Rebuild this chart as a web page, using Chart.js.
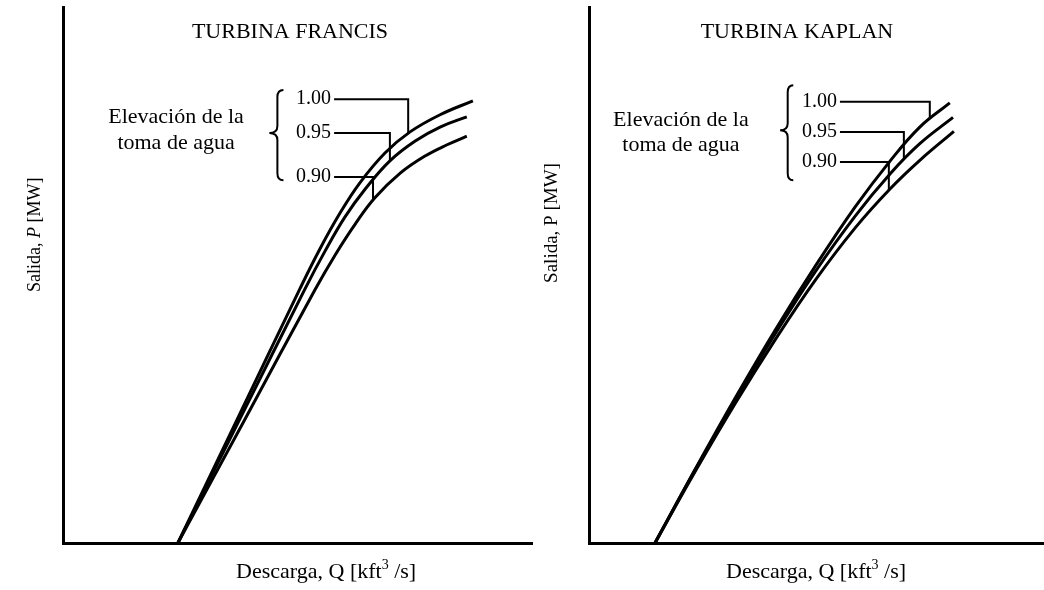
<!DOCTYPE html>
<html>
<head>
<meta charset="utf-8">
<script src="https://cdn.jsdelivr.net/npm/chart.js@4/dist/chart.umd.min.js"></script>
<style>
  body { margin: 0; background: #fff; width: 1044px; height: 590px; overflow: hidden; position: relative; }
  canvas { position: absolute; top: 0; }
</style>
</head>
<body>
<canvas id="francisChart" width="540" height="590" style="left:0"></canvas>
<canvas id="kaplanChart" width="504" height="590" style="left:540px"></canvas>
<script>
// elevaciones de la toma de agua (etiquetas de las curvas)
const elevations = ['1.00', '0.95', '0.90'];

// Turbina Francis: descarga Q y salida P (unidades relativas, sin marcas)
const francisQ100 = [2.45, 3.77, 5.05, 5.48, 5.91, 6.33, 6.87, 7.40, 8.04, 8.74];
const francisP100 = [0, 2.41, 4.74, 5.49, 6.16, 6.72, 7.28, 7.67, 7.99, 8.25];
const francisQ095 = [2.45, 3.77, 5.16, 5.59, 6.01, 6.44, 6.97, 7.51, 8.04, 8.61];
const francisP095 = [0, 2.31, 4.74, 5.45, 6.08, 6.60, 7.13, 7.50, 7.76, 7.95];
const francisQ090 = [2.45, 3.88, 5.37, 5.80, 6.23, 6.65, 7.19, 7.72, 8.19, 8.61];
const francisP090 = [0, 2.31, 4.72, 5.37, 5.95, 6.44, 6.90, 7.22, 7.43, 7.59];

// Turbina Kaplan
const kaplanQ100 = [1.45, 2.33, 3.21, 4.09, 4.97, 5.85, 6.62, 7.27, 7.93];
const kaplanP100 = [0, 1.37, 2.70, 3.97, 5.16, 6.27, 7.13, 7.76, 8.21];
const kaplanQ095 = [1.45, 2.33, 3.21, 4.09, 4.97, 5.85, 6.62, 7.27, 8.00];
const kaplanP095 = [0, 1.36, 2.66, 3.90, 5.06, 6.10, 6.89, 7.45, 7.94];
const kaplanQ090 = [1.45, 2.33, 3.21, 4.09, 4.97, 5.85, 6.62, 7.27, 8.02];
const kaplanP090 = [0, 1.33, 2.60, 3.79, 4.90, 5.88, 6.61, 7.14, 7.68];

const FONT = '"Liberation Serif", "Times New Roman", serif';

function toPoints(qs, ps) {
    return qs.map((q, i) => ({ x: q, y: ps[i] }));
}

function curveAt(points, q) {
    for (let i = 1; i < points.length; i++) {
        if (q <= points[i].x) {
            const a = points[i - 1], b = points[i];
            return a.y + (b.y - a.y) * (q - a.x) / (b.x - a.x);
        }
    }
    return points[points.length - 1].y;
}

function drawBrace(ctx, xr, xl, y1, y2, ym) {
    const xc = (xr + xl) / 2 + 1;
    const r = 7;
    ctx.beginPath();
    ctx.moveTo(xr, y1);
    ctx.quadraticCurveTo(xc, y1, xc, y1 + r);
    ctx.lineTo(xc, ym - r);
    ctx.quadraticCurveTo(xc, ym, xl, ym);
    ctx.quadraticCurveTo(xc, ym, xc, ym + r);
    ctx.lineTo(xc, y2 - r);
    ctx.quadraticCurveTo(xc, y2, xr, y2);
    ctx.stroke();
}

function drawParts(ctx, parts, cx, cy) {
    let total = 0;
    parts.forEach(p => { ctx.font = p.font; total += ctx.measureText(p.text).width; });
    let px = cx - total / 2;
    ctx.textAlign = 'left';
    parts.forEach(p => {
        ctx.font = p.font;
        ctx.fillText(p.text, px, cy + (p.dy || 0));
        px += ctx.measureText(p.text).width;
    });
}

const annotPlugin = {
    id: 'annot',
    afterDraw(chart, args, o) {
        const { ctx, chartArea: ca } = chart;
        const x = chart.scales.x, y = chart.scales.y;
        const X = v => x.getPixelForValue(v), Y = v => y.getPixelForValue(v);
        ctx.save();
        ctx.fillStyle = '#000';
        ctx.strokeStyle = '#000';

        ctx.textBaseline = 'alphabetic';
        ctx.textAlign = 'center';
        ctx.font = '22px ' + FONT;
        ctx.fillText(o.title, X(o.titleAt[0]), Y(o.titleAt[1]));

        ctx.textBaseline = 'middle';
        ctx.font = '22px ' + FONT;
        ctx.fillText('Elevación de la', X(o.noteAt[0]), Y(o.noteAt[1]));
        ctx.fillText('toma de agua', X(o.noteAt[0]), Y(o.noteAt[2]));

        ctx.lineWidth = 2;
        drawBrace(ctx, X(o.brace[0]), X(o.brace[1]), Y(o.brace[2]), Y(o.brace[3]), Y(o.brace[4]));

        ctx.textAlign = 'left';
        ctx.font = '20px ' + FONT;
        chart.data.datasets.forEach((ds, i) => {
            const lx = X(o.labelX), ly = Y(o.labelY[i]);
            ctx.fillText(ds.label, lx, ly);
            const w = ctx.measureText(ds.label).width;
            const dx = X(o.leaderX[i]);
            const cy = Y(curveAt(ds.data, o.leaderX[i]));
            ctx.beginPath();
            ctx.moveTo(lx + w + 3, ly);
            ctx.lineTo(dx, ly);
            ctx.lineTo(dx, cy);
            ctx.stroke();
        });

        // titulo eje x
        ctx.textBaseline = 'alphabetic';
        drawParts(ctx, [
            { text: 'Descarga, Q [kft', font: '22px ' + FONT },
            { text: '3', font: '14px ' + FONT, dy: -9 },
            { text: ' /s]', font: '22px ' + FONT }
        ], X(o.xTitleAt), ca.bottom + 35);

        // titulo eje y
        const fs = o.yTitleSize + 'px ' + FONT;
        ctx.save();
        ctx.translate(ca.left - o.yTitleOffset, Y(o.yTitleAt));
        ctx.rotate(-Math.PI / 2);
        ctx.textBaseline = 'middle';
        drawParts(ctx, [
            { text: 'Salida, ', font: fs },
            { text: 'P', font: (o.italicP ? 'italic ' : '') + fs },
            { text: ' [MW]', font: fs }
        ], 0, 0);
        ctx.restore();

        ctx.restore();
    }
};

function makeChart(id, series, padding, annot) {
    const axis = {
        type: 'linear', min: 0, max: 10,
        ticks: { display: false },
        grid: { display: false, drawTicks: false },
        border: { display: true, color: '#000', width: 3 }
    };
    return new Chart(document.getElementById(id).getContext('2d'), {
        type: 'line',
        data: {
            datasets: series.map((pts, i) => ({
                label: elevations[i],
                data: pts,
                borderColor: '#000',
                borderWidth: 3,
                pointRadius: 0,
                fill: false,
                tension: 0.4
            }))
        },
        options: {
            responsive: false,
            animation: false,
            layout: { padding: padding },
            plugins: { legend: { display: false }, tooltip: { enabled: false }, annot: annot },
            scales: { x: axis, y: axis }
        },
        plugins: [annotPlugin]
    });
}

makeChart('francisChart', [
    toPoints(francisQ100, francisP100),
    toPoints(francisQ095, francisP095),
    toPoints(francisQ090, francisP090)
], { left: 63, top: 7, right: 8, bottom: 47 }, {
    title: 'TURBINA FRANCIS', titleAt: [4.84, 9.42],
    noteAt: [2.41, 7.95, 7.46],
    brace: [4.70, 4.40, 8.45, 6.77, 7.65],
    labelX: 4.97, labelY: [8.28, 7.65, 6.83],
    leaderX: [7.36, 6.97, 6.61],
    xTitleAt: 5.61, yTitleAt: 5.75, yTitleOffset: 28, yTitleSize: 18, italicP: true
});

makeChart('kaplanChart', [
    toPoints(kaplanQ100, kaplanP100),
    toPoints(kaplanQ095, kaplanP095),
    toPoints(kaplanQ090, kaplanP090)
], { left: 49, top: 7, right: 0, bottom: 47 }, {
    title: 'TURBINA KAPLAN', titleAt: [4.57, 9.42],
    noteAt: [2.02, 7.89, 7.43],
    brace: [4.49, 4.20, 8.54, 6.77, 7.70],
    labelX: 4.68, labelY: [8.23, 7.67, 7.11],
    leaderX: [7.49, 6.92, 6.59],
    xTitleAt: 4.99, yTitleAt: 5.97, yTitleOffset: 37, yTitleSize: 19, italicP: false
});
</script>
</body>
</html>
